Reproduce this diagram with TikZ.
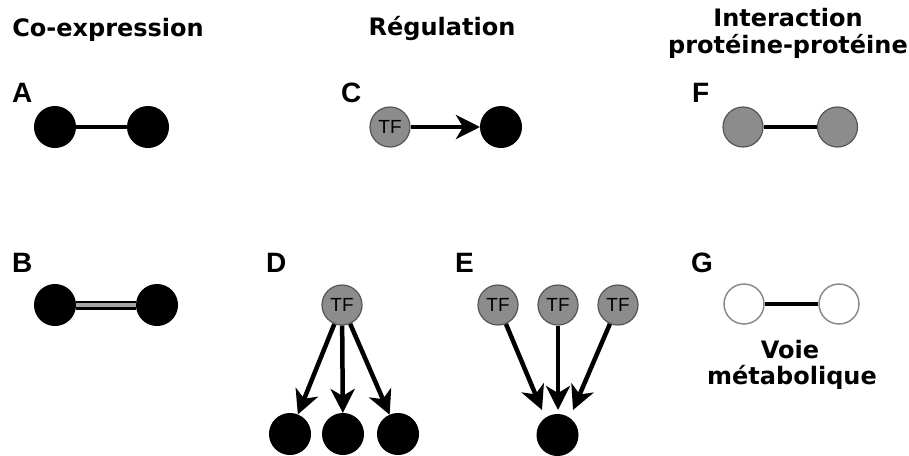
\documentclass[tikz,border=0pt]{standalone}
\usepackage{fontspec}
\setmainfont{DejaVu Sans}
\newfontfamily\lblfont{Liberation Sans}
\usetikzlibrary{arrows.meta}
\definecolor{tfgray}{HTML}{8C8C8C}
\definecolor{tfborder}{HTML}{555555}
\definecolor{wborder}{HTML}{8A8A8A}
\tikzset{
  title/.style={font=\fontsize{24}{28}\selectfont\bfseries, anchor=base, align=center},
  panel/.style={font=\lblfont\fontsize{28}{30}\selectfont\bfseries, anchor=base west, inner sep=0},
  blacknode/.style={circle, fill=black, draw=black, line width=1pt, minimum size=41pt, inner sep=0},
  graynode/.style={circle, fill=tfgray, draw=tfborder, line width=1.2pt, minimum size=40pt, inner sep=0},
  whitenode/.style={circle, fill=white, draw=wborder, line width=1.5pt, minimum size=40pt, inner sep=0},
  tfnode/.style={graynode, font=\lblfont\fontsize{19}{19}\selectfont, text=black},
  edge/.style={line width=4pt, black},
  arr/.style={line width=4.5pt, black, -{Stealth[length=24pt, width=24pt, inset=7pt]}},
}
\begin{document}
\begin{tikzpicture}[x=1pt, y=-1pt]
\useasboundingbox (0,0) rectangle (909,455);
% titles
\node[title] (t1) at (108,36) {Co-expression};
\node[title] (t2) at (442,35) {Régulation};
\node[title] (t3) at (788,27) {Interaction};
\node[title] (t3b) at (788,53) {protéine-protéine};
\node[title] (t4) at (790,358) {Voie};
\node[title] (t4b) at (792,384) {métabolique};
% panel letters
\node[panel] (lA) at (12,102) {A};
\node[panel] (lB) at (12,272) {B};
\node[panel] (lC) at (341,102) {C};
\node[panel] (lD) at (266,272) {D};
\node[panel] (lE) at (455,272) {E};
\node[panel] (lF) at (692,102) {F};
\node[panel] (lG) at (691,272) {G};
% A
\node[blacknode] (a1) at (55,127) {};
\node[blacknode] (a2) at (148,127) {};
\draw[edge] (a1) -- (a2);
% B
\node[blacknode] (b1) at (55,305) {};
\node[blacknode] (b2) at (157,305) {};
\draw[line width=9pt, black] (b1) -- (b2);
\draw[line width=4pt, black!35] (b1.east) -- (b2.west);
% C
\node[tfnode] (c1) at (390,127) {TF};
\node[blacknode] (c2) at (501,127) {};
\draw[arr] (c1) -- (c2);
% D
\node[tfnode] (d0) at (342,305) {TF};
\node[blacknode] (d1) at (290,434) {};
\node[blacknode] (d2) at (343,434) {};
\node[blacknode] (d3) at (398,434) {};
\draw[arr] (d0) -- (d1);
\draw[arr] (d0) -- (d2);
\draw[arr] (d0) -- (d3);
% E
\node[tfnode] (e1) at (498,305) {TF};
\node[tfnode] (e2) at (558,305) {TF};
\node[tfnode] (e3) at (618,305) {TF};
\node[blacknode] (e0) at (557.5,435) {};
\coordinate (eL) at (542,410);
\coordinate (eM) at (558,410);
\coordinate (eR) at (573,410);
\draw[arr] (e1) -- (eL);
\draw[arr] (e2) -- (eM);
\draw[arr] (e3) -- (eR);
% F
\node[graynode] (f1) at (743,127) {};
\node[graynode] (f2) at (837.5,127) {};
\draw[edge] (f1) -- (f2);
% G
\node[whitenode] (g1) at (744,304) {};
\node[whitenode] (g2) at (839,304) {};
\draw[edge] (g1) -- (g2);
\end{tikzpicture}
\end{document}
